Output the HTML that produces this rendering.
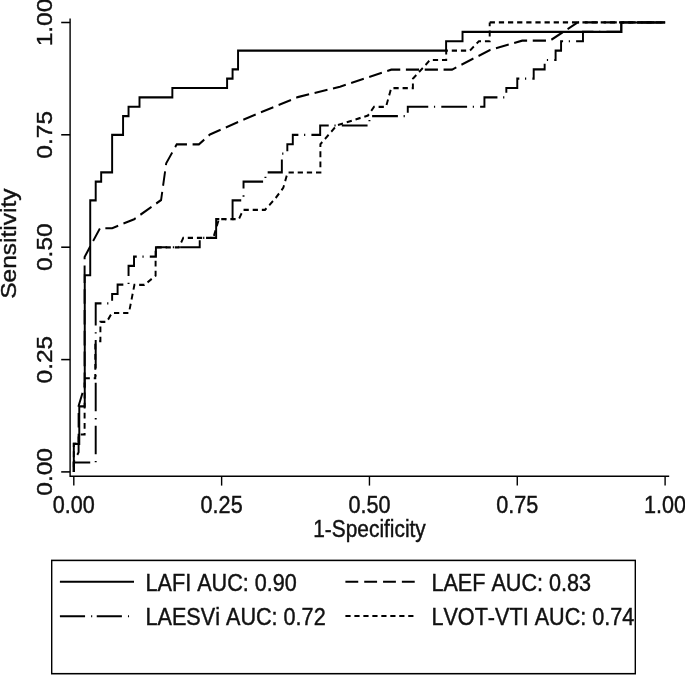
<!DOCTYPE html>
<html lang="en"><head><meta charset="utf-8"><title>ROC curves</title>
<style>
html,body{margin:0;padding:0;background:#fff;}
svg{display:block;will-change:transform;}
text{font-family:"Liberation Sans",Arial,sans-serif;font-size:24.5px;fill:#111;stroke:#111;stroke-width:0.45px;font-kerning:none;}
.tt{font-size:24.5px;}
.tx{font-size:24.7px;}
.ax{stroke:#000;stroke-width:1.55;fill:none;}
.cv{stroke:#000;stroke-width:2.15;fill:none;stroke-linejoin:miter;}
.lg{stroke:#000;stroke-width:1.95;fill:none;}
</style></head><body>
<svg width="685" height="675" viewBox="0 0 685 675">
<rect width="685" height="675" fill="#fff"/>
<g transform="scale(0.9050,1)">
<path class="ax" d="M77.46,18.6 V476.2 H739.45"/>
<path class="ax" d="M67.62,471.9 H77.46"/>
<path class="ax" d="M67.62,359.6 H77.46"/>
<path class="ax" d="M67.62,247.2 H77.46"/>
<path class="ax" d="M67.62,134.8 H77.46"/>
<path class="ax" d="M67.62,22.5 H77.46"/>
<path class="ax" d="M81.55,476.2 V485.6"/>
<path class="ax" d="M244.89,476.2 V485.6"/>
<path class="ax" d="M408.23,476.2 V485.6"/>
<path class="ax" d="M571.57,476.2 V485.6"/>
<path class="ax" d="M734.92,476.2 V485.6"/>
<text transform="translate(57.46,471.9) scale(0.9750,1) rotate(-90)" text-anchor="middle">0.00</text>
<text transform="translate(57.46,359.6) scale(0.9750,1) rotate(-90)" text-anchor="middle">0.25</text>
<text transform="translate(57.46,247.2) scale(0.9750,1) rotate(-90)" text-anchor="middle">0.50</text>
<text transform="translate(57.46,134.8) scale(0.9750,1) rotate(-90)" text-anchor="middle">0.75</text>
<text transform="translate(57.46,22.5) scale(0.9750,1) rotate(-90)" text-anchor="middle">1.00</text>
<text transform="translate(81.55,512.6) scale(0.9750,1)" text-anchor="middle">0.00</text>
<text transform="translate(244.89,512.6) scale(0.9750,1)" text-anchor="middle">0.25</text>
<text transform="translate(408.23,512.6) scale(0.9750,1)" text-anchor="middle">0.50</text>
<text transform="translate(571.57,512.6) scale(0.9750,1)" text-anchor="middle">0.75</text>
<text transform="translate(734.92,512.6) scale(0.9750,1)" text-anchor="middle">1.00</text>
<text class="tt" transform="translate(17.46,243.6) scale(0.9750,1) rotate(-90)" text-anchor="middle">Sensitivity</text>
<text class="tx" transform="translate(408.29,537.3) scale(0.9340,1)" text-anchor="middle">1-Specificity</text>
<path class="cv" d="M81.55,471.90 L81.55,443.80 L86.85,443.80 L86.85,434.50 L93.48,434.50 L93.48,378.20 L105.30,378.20 L105.30,341.10" stroke-dasharray="5.8 4.3" stroke-dashoffset="5.47"/>
<path class="cv" d="M105.30,341.10 L110.94,341.10 L110.94,321.90 L117.90,321.90 L123.65,313.00 L142.43,313.00 L148.51,284.90 L159.56,284.90 L171.93,275.60 L171.93,247.30 L197.68,247.30 L202.54,237.80 L235.69,237.80 L241.88,219.10 L263.98,219.10 L268.84,209.80 L292.82,209.80 L303.87,198.90 L313.04,187.80 L317.79,172.50 L354.03,172.50 L354.03,144.30 L371.93,125.50 L406.63,115.50 L413.26,106.90 L426.52,106.90 L432.27,88.10 L456.24,88.10 L456.24,78.80 L475.14,60.00 L493.04,60.00 L493.04,50.60 L519.34,50.60 L529.17,41.20 L541.10,41.20 L541.10,22.40" stroke-dasharray="5.8 4.3" stroke-dashoffset="5.80"/>
<path class="cv" d="M541.10,22.40 L638.45,22.40" stroke-dasharray="5.8 4.3" stroke-dashoffset="0.00"/>
<path class="cv" d="M638.45,22.40 L734.92,22.40" stroke-dasharray="5.8 4.3" stroke-dashoffset="4.97"/>
<path class="cv" d="M81.55,471.90 L81.55,462.54 L105.75,462.54 L105.75,303.38 L123.90,303.38 L123.90,294.01 L129.94,294.01 L129.94,284.65 L142.04,284.65 L142.04,265.92 L148.09,265.92 L148.09,256.56 L172.29,256.56 L172.29,247.20 L220.69,247.20 L220.69,237.84 L238.84,237.84 L238.84,219.11 L256.99,219.11 L256.99,200.39 L269.09,200.39 L269.09,181.66 L293.29,181.66 L293.29,172.30 L311.44,172.30 L311.44,153.57 L317.49,153.57 L317.49,144.21 L323.54,144.21 L323.54,134.85 L353.78,134.85 L353.78,125.49 L408.23,125.49 L408.23,116.12 L450.58,116.12 L450.58,106.76 L535.28,106.76 L535.28,97.40 L559.48,97.40 L559.48,88.04 L571.57,88.04 L571.57,78.68 L589.72,78.68 L589.72,69.31 L601.82,69.31 L601.82,59.95 L613.92,59.95 L613.92,50.59 L619.97,50.59 L619.97,41.23 L644.17,41.23 L644.17,31.86 L686.52,31.86 L686.52,22.50 L734.92,22.50" stroke-dasharray="28.5 6.3 1.3 6.8" stroke-dashoffset="1.00"/>
<path class="cv" d="M81.55,471.90 L81.55,461.90 L86.85,452.20 L86.85,443.80" stroke-dasharray="14.6 6.22" stroke-dashoffset="2.80"/>
<path class="cv" d="M86.85,443.80 L86.85,406.00 L93.48,386.00 L93.48,275.30" stroke-dasharray="14.6 6.22" stroke-dashoffset="4.62"/>
<path class="cv" d="M93.48,275.30 L93.48,257.00 L110.50,228.20 L123.98,228.20 L148.29,219.20 L178.01,200.00 L183.65,163.30 L195.25,144.40 L219.78,144.40 L232.04,134.40 L270.72,118.90 L329.06,97.10 L375.69,86.70 L432.38,69.60 L499.45,69.60 L541.44,50.00 L577.02,40.60 L607.73,40.60 L638.45,22.40 L734.92,22.40" stroke-dasharray="14.6 6.22" stroke-dashoffset="4.79"/>
<path class="cv" d="M81.55,471.90 L81.55,443.81 L87.60,443.81 L87.60,406.36 L93.65,406.36 L93.65,275.29 L99.70,275.29 L99.70,200.39 L105.75,200.39 L105.75,181.66 L111.80,181.66 L111.80,172.30 L123.90,172.30 L123.90,134.85 L135.99,134.85 L135.99,116.12 L142.04,116.12 L142.04,106.76 L154.14,106.76 L154.14,97.40 L190.44,97.40 L190.44,88.04 L250.94,88.04 L250.94,78.68 L256.99,78.68 L256.99,69.31 L263.04,69.31 L263.04,50.59 L492.93,50.59 L492.93,41.23 L511.08,41.23 L511.08,31.86 L686.52,31.86 L686.52,22.50 L734.92,22.50"/>
<rect class="ax" x="57.13" y="560.4" width="644.86" height="113.3"/>
<path class="lg" d="M66.19,581.8 H148.07"/>
<path class="lg" d="M66.19,616.2 H147.40" stroke-dasharray="27.8 6.7 1.2 5"/>
<path class="lg" d="M381.66,581.7 H460.22" stroke-dasharray="14.2 6.6"/>
<path class="lg" d="M381.66,615.9 H460.22" stroke-dasharray="5.75 4.17"/>
<text transform="translate(160.77,590.9) scale(0.9750,1)" text-anchor="start">LAFI AUC: 0.90</text>
<text transform="translate(160.77,625.4) scale(0.9750,1)" text-anchor="start">LAESVi AUC: 0.72</text>
<text transform="translate(476.69,590.8) scale(0.9750,1)" text-anchor="start">LAEF AUC: 0.83</text>
<text transform="translate(476.69,625.4) scale(0.9750,1)" text-anchor="start">LVOT-VTI AUC: 0.74</text>
</g></svg></body></html>
